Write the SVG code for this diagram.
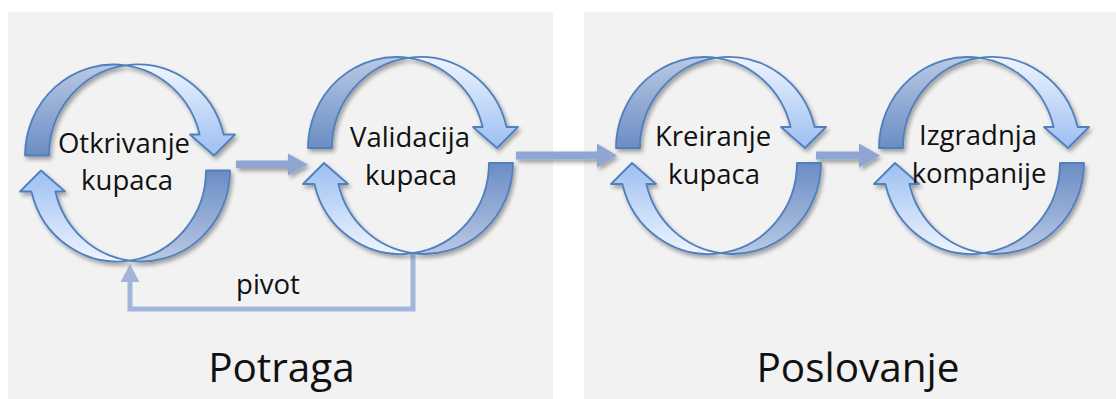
<svg xmlns="http://www.w3.org/2000/svg" xmlns:xlink="http://www.w3.org/1999/xlink" width="1116" height="399" viewBox="0 0 1116 399">
  <style>
    .panel { fill: #f2f2f2; }
    .lbl { font-family: "Open Sans", "Noto Sans", "Liberation Sans", sans-serif; font-size: 27.5px; fill: #111; text-anchor: middle; }
    .big { font-family: "Open Sans", "Noto Sans", "Liberation Sans", sans-serif; font-size: 40.5px; fill: #111; text-anchor: middle; }
    .arc { stroke: #4f7fbd; stroke-width: 1.8; stroke-linejoin: round; }
    .flow { fill: #8fa6d2; }
    .pivot { fill: none; stroke: #a3b6da; stroke-width: 5; }
  </style>
  <defs>
    <!-- vertical shading of the curved arrow: light face and darker inner face -->
    <linearGradient id="gLight" gradientUnits="userSpaceOnUse" x1="0" y1="-98" x2="0" y2="-8">
      <stop offset="0" stop-color="#eef4fe"/>
      <stop offset="1" stop-color="#9dbff2"/>
    </linearGradient>
    <linearGradient id="gDark" gradientUnits="userSpaceOnUse" x1="0" y1="-98" x2="0" y2="-8">
      <stop offset="0" stop-color="#b9c9e4"/>
      <stop offset="1" stop-color="#6b8dc4"/>
    </linearGradient>
    <filter id="shadow" x="-20%" y="-20%" width="140%" height="150%">
      <feGaussianBlur in="SourceAlpha" stdDeviation="2.2"/>
      <feOffset dx="1.5" dy="2.5" result="b"/>
      <feComponentTransfer><feFuncA type="linear" slope="0.35"/></feComponentTransfer>
      <feMerge><feMergeNode/><feMergeNode in="SourceGraphic"/></feMerge>
    </filter>
    <!-- half of a cycle: curved arrow over the top, pointing down on the right -->
    <g id="half">
      <path class="arc" fill="url(#gDark)" d="M -102.5,-7.5 A 88.5 91 0 0 1 -2,-97.66 A 88.5 91 0 0 0 -78.5,-7.5 Z"/>
      <path class="arc" fill="url(#gLight)" d="M -2,-97.66 A 88.5 91 0 0 1 96.11,-28.5 L 107.5,-28.5 L 86.5,-7.5 L 62.5,-28.5 L 72.11,-28.5 A 88.5 91 0 0 0 -2,-97.66 Z"/>
    </g>
    <g id="cycle" filter="url(#shadow)">
      <use xlink:href="#half" href="#half"/>
      <use xlink:href="#half" href="#half" transform="rotate(180)"/>
    </g>
  </defs>

  <!-- background panels -->
  <rect class="panel" x="8" y="12" width="545" height="387"/>
  <rect class="panel" x="584" y="12" width="532" height="387"/>

  <!-- connectors -->
  <g id="connectors">
    <g filter="url(#shadow)">
      <path class="flow" d="M236,160.5 H288 V153.5 L308,164.5 L288,175.5 V168 H236 Z"/>
      <path class="flow" d="M516,151.5 H597 V143.5 L617,155.5 L597,167.5 V159.5 H516 Z"/>
      <path class="flow" d="M816,151.5 H859 V143.5 L880,155.5 L859,167.5 V159.5 H816 Z"/>
    </g>
    <polyline class="pivot" points="413,252 413,309 130,309 130,280"/>
    <polygon fill="#a3b6da" points="120.5,282 130,264 139.5,282"/>
    <text class="lbl" x="268" y="294">pivot</text>
  </g>

  <!-- cycles -->
  <g id="otkrivanje">
    <use xlink:href="#cycle" href="#cycle" transform="translate(127.5,163)"/>
    <text class="lbl" x="124" y="153">Otkrivanje</text>
    <text class="lbl" x="127" y="190">kupaca</text>
  </g>
  <g id="validacija">
    <use xlink:href="#cycle" href="#cycle" transform="translate(410.5,155.5)"/>
    <text class="lbl" x="410" y="146.5">Validacija</text>
    <text class="lbl" x="411" y="185">kupaca</text>
  </g>
  <g id="kreiranje">
    <use xlink:href="#cycle" href="#cycle" transform="translate(718.5,155.5)"/>
    <text class="lbl" x="713" y="146">Kreiranje</text>
    <text class="lbl" x="714" y="184">kupaca</text>
  </g>
  <g id="izgradnja">
    <use xlink:href="#cycle" href="#cycle" transform="translate(981.5,155.5)"/>
    <text class="lbl" x="978" y="145">Izgradnja</text>
    <text class="lbl" x="979" y="183">kompanije</text>
  </g>

  <!-- phase titles -->
  <text class="big" x="281.5" y="381.5">Potraga</text>
  <text class="big" x="858" y="381.5">Poslovanje</text>
</svg>
